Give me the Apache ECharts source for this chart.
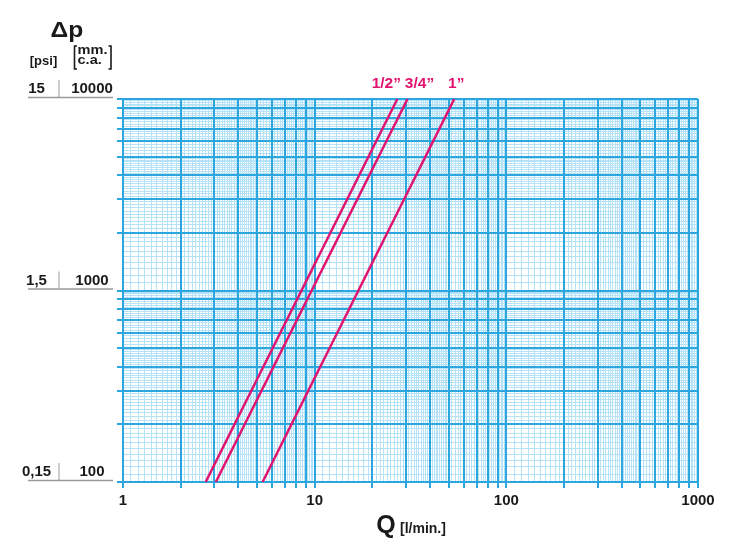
<!DOCTYPE html>
<html><head><meta charset="utf-8">
<script src="https://cdn.jsdelivr.net/npm/echarts@6/dist/echarts.min.js"></script>
<style>html,body{margin:0;padding:0;background:#fff}#c{width:730px;height:546px}</style>
</head><body><div id="c"></div>
<script>
// ---- data ----
var seriesNames = ['1/2\u201D', '3/4\u201D', '1\u201D'];
var halfInch = [[2.7, 100], [27, 10000]];
var threeQuarterInch = [[3.05, 100], [30.5, 10000]];
var oneInch = [[5.35, 100], [53.5, 10000]];
var xTickLabels = ['1', '10', '100', '1000'];
var yTickValues = [100, 1000, 10000];
var psiLabels = ['0,15', '1,5', '15'];
var mmLabels = ['100', '1000', '10000'];

var FONT = '"Liberation Sans", Arial, Helvetica, sans-serif';
var MAGENTA = '#e2136f';
var MAJ = '#2ba6df';
var MIN = '#b5e2f6';

// grid line values (log paper subdivisions)
function decadeLines(lo, hi) {
  var out = [];
  for (var d = lo; d < hi; d *= 10) {
    for (var m = 1; m < 10; m++) out.push([m * d, 1]);
    for (var k = 11; k < 50; k++) if (k % 10) out.push([k / 10 * d, 0]);
    for (var k2 = 52; k2 < 100; k2 += 2) if (k2 % 10) out.push([k2 / 10 * d, 0]);
  }
  out.push([hi, 1]);
  return out;
}
var vLines = decadeLines(1, 1000).map(function (a) { return [a[0], 100, a[1]]; });
var hLines = decadeLines(100, 10000).map(function (a) { return [1, a[0], a[1]]; });

var chart = echarts.init(document.getElementById('c'));

function snap(v, w) { return w % 2 === 1 ? Math.round(v - 0.5) + 0.5 : Math.round(v); }

function gridRender(vertical) {
  return function (params, api) {
    var major = api.value(2);
    var w = major ? 2 : 1;
    var p1, p2;
    if (vertical) {
      p1 = api.coord([api.value(0), 100]);
      p2 = api.coord([api.value(0), 10000]);
      if (major) p1[1] += 6;
      p1[0] = p2[0] = snap(p1[0], w);
    } else {
      p1 = api.coord([1, api.value(1)]);
      p2 = api.coord([1000, api.value(1)]);
      if (major) p1[0] -= 6;
      p1[1] = p2[1] = snap(p1[1], w);
    }
    return {
      type: 'line',
      z2: major ? 2 : 1,
      shape: { x1: p1[0], y1: p1[1], x2: p2[0], y2: p2[1] },
      style: { stroke: major ? MAJ : MIN, lineWidth: w }
    };
  };
}

function lineSeries(name, data, offset) {
  return {
    type: 'line', name: name, z: 5,
    data: [
      { value: data[0], symbolSize: 0 },
      { value: data[1], symbolSize: 1, label: { show: true, position: 'top', offset: offset, formatter: name } }
    ],
    symbol: 'circle', showSymbol: true,
    itemStyle: { color: 'rgba(0,0,0,0)' },
    lineStyle: { color: MAGENTA, width: 2.5 },
    label: { show: false, color: MAGENTA, fontFamily: FONT, fontWeight: 'bold', fontSize: 15.5 },
    clip: false, silent: true
  };
}

var option = {
  animation: false,
  grid: { left: 123, right: 32, top: 99, bottom: 64 },
  xAxis: {
    type: 'log', logBase: 10, min: 1, max: 1000,
    axisLine: { show: false }, axisTick: { show: false }, splitLine: { show: false },
    axisLabel: {
      margin: 11, color: '#1a1a1a', fontFamily: FONT, fontWeight: 'bold', fontSize: 15,
      formatter: function (v) { var i = Math.round(Math.log10(v)); return xTickLabels[i] || ''; }
    }
  },
  yAxis: {
    type: 'log', logBase: 10, min: 100, max: 10000,
    axisLine: { show: false }, axisTick: { show: false }, splitLine: { show: false },
    axisLabel: { show: false }
  },
  series: [
    { type: 'custom', z: 1, clip: false, silent: true, data: vLines, encode: { x: 0, y: 1 }, renderItem: gridRender(true) },
    { type: 'custom', z: 1, clip: false, silent: true, data: hLines, encode: { x: 0, y: 1 }, renderItem: gridRender(false) },
    lineSeries(seriesNames[0], halfInch, [-11, -2]),
    lineSeries(seriesNames[1], threeQuarterInch, [12, -2]),
    lineSeries(seriesNames[2], oneInch, [2, -2])
  ]
};
chart.setOption(option);

// left label block, positioned with the y scale
var g = [];
yTickValues.forEach(function (v, i) {
  var py = chart.convertToPixel({ yAxisIndex: 0 }, v);
  g.push({ type: 'line', shape: { x1: 28, y1: py - 1.5, x2: 113, y2: py - 1.5 }, style: { stroke: '#9a9a9a', lineWidth: 1.5 } });
  g.push({ type: 'line', shape: { x1: 59, y1: py - 19, x2: 59, y2: py - 1.5 }, style: { stroke: '#9a9a9a', lineWidth: 1 } });
  g.push({ type: 'text', x: 36.5, y: py - 10, style: { text: psiLabels[i], fill: '#1a1a1a', font: 'bold 15px ' + FONT, textAlign: 'center', textVerticalAlign: 'middle' } });
  g.push({ type: 'text', x: 92, y: py - 10, style: { text: mmLabels[i], fill: '#1a1a1a', font: 'bold 15px ' + FONT, textAlign: 'center', textVerticalAlign: 'middle' } });
});
// titles
g.push({ type: 'text', x: 67, y: 31, scaleX: 1.12, style: { text: '\u0394p', fill: '#1a1a1a', font: 'bold 22px ' + FONT, textAlign: 'center', textVerticalAlign: 'middle' } });
g.push({ type: 'text', x: 43.5, y: 61, style: { text: '[psi]', fill: '#1a1a1a', font: 'bold 13px ' + FONT, textAlign: 'center', textVerticalAlign: 'middle' } });
g.push({ type: 'text', x: 77.5, y: 50, scaleX: 1.12, style: { text: 'mm.', fill: '#1a1a1a', font: 'bold 13px ' + FONT, textAlign: 'left', textVerticalAlign: 'middle' } });
g.push({ type: 'text', x: 77.5, y: 60.5, scaleX: 1.12, style: { text: 'c.a.', fill: '#1a1a1a', font: 'bold 13px ' + FONT, textAlign: 'left', textVerticalAlign: 'middle' } });
g.push({ type: 'polyline', shape: { points: [[77, 46], [74.5, 46], [74.5, 69], [77, 69]] }, style: { stroke: '#1a1a1a', lineWidth: 1.6, fill: null } });
g.push({ type: 'polyline', shape: { points: [[108.5, 46], [111, 46], [111, 69], [108.5, 69]] }, style: { stroke: '#1a1a1a', lineWidth: 1.6, fill: null } });
// x title
g.push({ type: 'text', x: 386, y: 526, style: { text: 'Q', fill: '#1a1a1a', font: 'bold 25px ' + FONT, textAlign: 'center', textVerticalAlign: 'middle' } });
g.push({ type: 'text', x: 400, y: 529, style: { text: '[l/min.]', fill: '#1a1a1a', font: 'bold 14px ' + FONT, textAlign: 'left', textVerticalAlign: 'middle' } });
chart.setOption({ graphic: g });
</script>
</body></html>
